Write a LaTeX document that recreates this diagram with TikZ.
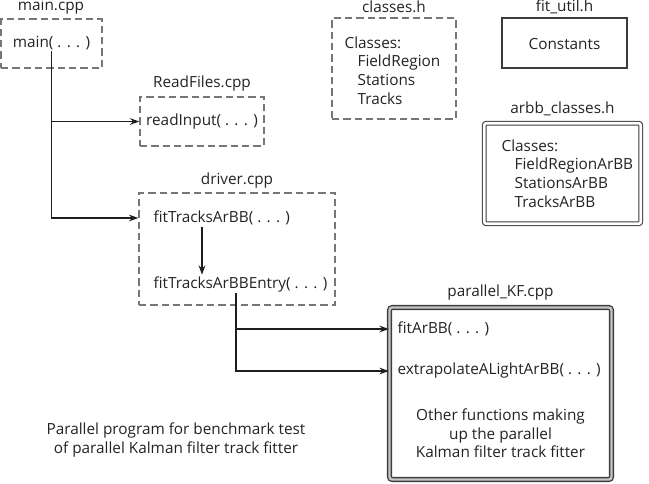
\documentclass[tikz,border=0pt]{standalone}
\usepackage{fontspec}
\setmainfont{Open Sans}
\usetikzlibrary{positioning,arrows.meta}
\definecolor{boxgray}{RGB}{118,118,118}
\definecolor{linegray}{RGB}{60,60,60}
\definecolor{arrowblack}{RGB}{30,30,30}
\definecolor{txtgray}{RGB}{35,35,35}
\begin{document}
\begin{tikzpicture}[x=0.75pt,y=-0.75pt]
\tikzstyle{every node}=[font=\fontsize{11.5}{13.9}\selectfont,text=txtgray]
\tikzstyle{dashbox}=[draw=boxgray,dash pattern=on 5.5pt off 3pt,line width=1.1pt,inner sep=0pt]
\tikzstyle{solidbox}=[draw=linegray,line width=1.1pt,inner sep=0pt]
\tikzstyle{dblbox}=[draw=linegray,double=white,double distance=2pt,line width=0.8pt,rounded corners=1.5pt,inner sep=0pt]
\tikzstyle{heavybox}=[draw=linegray,double=gray!45,double distance=1.8pt,line width=1pt,rounded corners=2pt,inner sep=0pt]
\tikzstyle{fn}=[inner sep=1pt]
\tikzstyle{call}=[->,>={Stealth[length=7pt,width=5pt]},line width=1.1pt,draw=arrowblack]
\useasboundingbox (0,0) rectangle (649,483);
% files
\node[dashbox,minimum width=101*0.75pt,minimum height=49*0.75pt] (mainbox) at (51.5,43.5) {};
\node (mainlbl) at (51,7) {main.cpp};
\node[fn] (mainfn) at (51.5,43) {main( . . . )};
\node[dashbox,minimum width=124*0.75pt,minimum height=49*0.75pt] (readbox) at (202,121.5) {};
\node (readlbl) at (202,84) {ReadFiles.cpp};
\node[fn] (readfn) at (202,122) {readInput( . . . )};
\node[dashbox,minimum width=124*0.75pt,minimum height=101*0.75pt] (classbox) at (394,68.5) {};
\node (classlbl) at (394,7) {classes.h};
\node[fn,anchor=west,align=left] (classtxt) at (343,70.5) {Classes:\\\hspace*{9.75pt}FieldRegion\\\hspace*{9.75pt}Stations\\\hspace*{9.75pt}Tracks};
\node[solidbox,minimum width=125*0.75pt,minimum height=50*0.75pt] (utilbox) at (564.5,43) {};
\node (utillbl) at (564.5,7) {fit\_util.h};
\node[fn] (utiltxt) at (564.5,44) {Constants};
\node[dblbox,minimum width=156.5*0.75pt,minimum height=100.5*0.75pt] (arbbbox) at (562.5,173.5) {};
\node (arbblbl) at (562.5,109) {arbb\_classes.h};
\node[fn,anchor=west,align=left] (arbbtxt) at (500,173.5) {Classes:\\\hspace*{9.75pt}FieldRegionArBB\\\hspace*{9.75pt}StationsArBB\\\hspace*{9.75pt}TracksArBB};
\node[dashbox,minimum width=196*0.75pt,minimum height=112*0.75pt] (drvbox) at (237,249) {};
\node (drvlbl) at (237,181) {driver.cpp};
\node[fn,anchor=west] (fitfn) at (152,218) {fitTracksArBB( . . . )};
\node[fn,anchor=west] (entryfn) at (152,284) {fitTracksArBBEntry( . . . )};
\node[heavybox,minimum width=222*0.75pt,minimum height=172*0.75pt] (kfbox) at (500.5,393.5) {};
\node (kflbl) at (500.5,293) {parallel\_KF.cpp};
\node[fn,anchor=west] (arbbfn) at (396,329) {fitArBB( . . . )};
\node[fn,anchor=west] (extrfn) at (396,371) {extrapolateALightArBB( . . . )};
\node[fn,align=center] (othertxt) at (500.5,433.5) {Other functions making\\up the parallel\\Kalman filter track fitter};
\node[align=center] (caption) at (176,440) {Parallel program for benchmark test\\of parallel Kalman filter track fitter};
% calls
\coordinate (trunk) at (202,0);
\coordinate (spine) at (236,0);
\draw[call] (mainfn.south) |- (readbox.west);
\draw[call] (mainfn.south) |- (drvbox.west |- fitfn.west);
\draw[call] (fitfn.south -| trunk) -- (entryfn.north -| trunk);
\draw[call] (entryfn.south -| spine) |- (kfbox.west |- arbbfn.west);
\draw[call] (entryfn.south -| spine) |- (kfbox.west |- extrfn.west);
\end{tikzpicture}
\end{document}
